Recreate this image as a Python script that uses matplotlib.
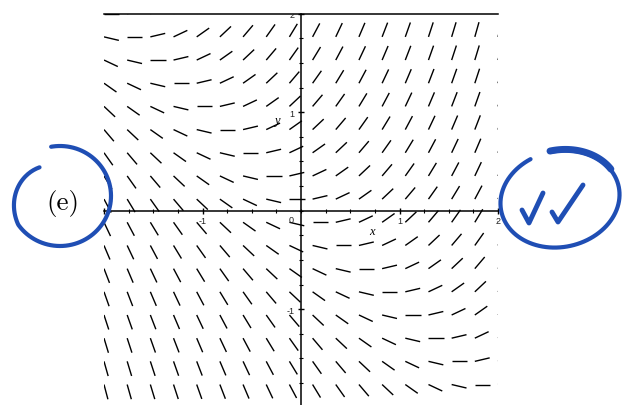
import numpy as np
import matplotlib
matplotlib.use("Agg")
import matplotlib.pyplot as plt
from matplotlib.collections import LineCollection
from matplotlib.transforms import Affine2D

# direction field for dy/dx = x + y, 18 x 18 grid over [-2, 2]
x_grid = np.linspace(-2, 2, 18)
y_grid = np.linspace(-2, 2, 18)

x_tick_labels = [-1, 1, 2]
y_tick_labels = [2, 1, -1]


def slope(x, y):
    return x + y


seg_len = 0.155
blue = "#1f4eb4"

fig = plt.figure(figsize=(6.25, 4.05), dpi=100)
ax = fig.add_axes([104 / 625, (405 - 407.7) / 405, 394 / 625, 394 / 405])
ax.set_xlim(-2, 2)
ax.set_ylim(-2, 2)

segs = []
for xv in x_grid:
    for yv in y_grid:
        a = np.arctan(slope(xv, yv))
        segs.append([(xv, yv), (xv + seg_len * np.cos(a), yv + seg_len * np.sin(a))])
ax.add_collection(LineCollection(segs, colors="black", linewidths=1.0))

# maple style axes through the origin
ax.spines["left"].set_position(("data", 0))
ax.spines["bottom"].set_position(("data", 0))
ax.spines["right"].set_visible(False)
for s in ["left", "bottom", "top"]:
    ax.spines[s].set_linewidth(1.1)
ax.xaxis.set_ticks_position("bottom")
ax.yaxis.set_ticks_position("left")
ax.set_xticks([-2, -1, 1, 2])
ax.set_yticks([-2, -1, 1, 2])
ax.set_xticks(np.arange(-2, 2.01, 0.25), minor=True)
ax.set_yticks(np.arange(-2, 2.01, 0.25), minor=True)
ax.tick_params(which="both", direction="inout", labelbottom=False, labelleft=False)
ax.tick_params(which="major", length=5, width=1)
ax.tick_params(which="minor", length=3, width=0.8)

lbl = dict(fontsize=6.5, family="Liberation Sans", color="#222222")
for v in x_tick_labels:
    ax.text(v, -0.105, str(v), ha="center", va="center", **lbl)
for v in y_tick_labels:
    ax.text(-0.07, v - 0.02, str(v), ha="right", va="center", clip_on=True, **lbl)
ax.text(-0.07, -0.1, "0", ha="right", va="center", **lbl)
ax.text(0.72, -0.216, "x", ha="center", va="center", fontsize=9,
        family="Liberation Serif", style="italic")
ax.text(-0.247, 0.91, "y", ha="center", va="center", fontsize=9,
        family="Liberation Serif", style="italic")

# handwritten marks, in pixel coords from top-left
px = Affine2D().scale(1 / 625, -1 / 405).translate(0, 1) + fig.transFigure

fig.text(62.5, 203.5, "(e)", transform=px, ha="center", va="center",
         fontsize=19.5, family="cmr10")

t = np.radians(np.linspace(125, 460, 200))
r = np.clip(0.7 + (t - t[0]) / np.radians(90) * 0.3, 0, 1)
ax_e = 60 + 51 * r * np.cos(t)
ay_e = 196 - 50 * r * np.sin(t)
fig.add_artist(plt.Line2D(ax_e, ay_e, transform=px, color=blue, lw=3,
                          solid_capstyle="round"))

t2 = np.radians(np.linspace(110, 450, 200))
rot = np.radians(12)
ex = 60 * np.cos(t2)
ey = 48 * np.sin(t2)
cx = 560 + ex * np.cos(rot) - ey * np.sin(rot)
cy = 199 - (ex * np.sin(rot) + ey * np.cos(rot))
fig.add_artist(plt.Line2D(cx, cy, transform=px, color=blue, lw=3,
                          solid_capstyle="round"))
k = t2 > np.radians(380)
fig.add_artist(plt.Line2D(cx[k], cy[k] - 1, transform=px, color=blue, lw=5,
                          solid_capstyle="round"))

check1_x = [522, 529, 543]
check1_y = [210, 223, 193]
check2_x = [552, 558, 583]
check2_y = [212, 222, 185]
for cxs, cys in [(check1_x, check1_y), (check2_x, check2_y)]:
    fig.add_artist(plt.Line2D(cxs, cys, transform=px, color=blue, lw=3.5,
                              solid_capstyle="round", solid_joinstyle="round"))

fig.savefig("out.png", dpi=100)
